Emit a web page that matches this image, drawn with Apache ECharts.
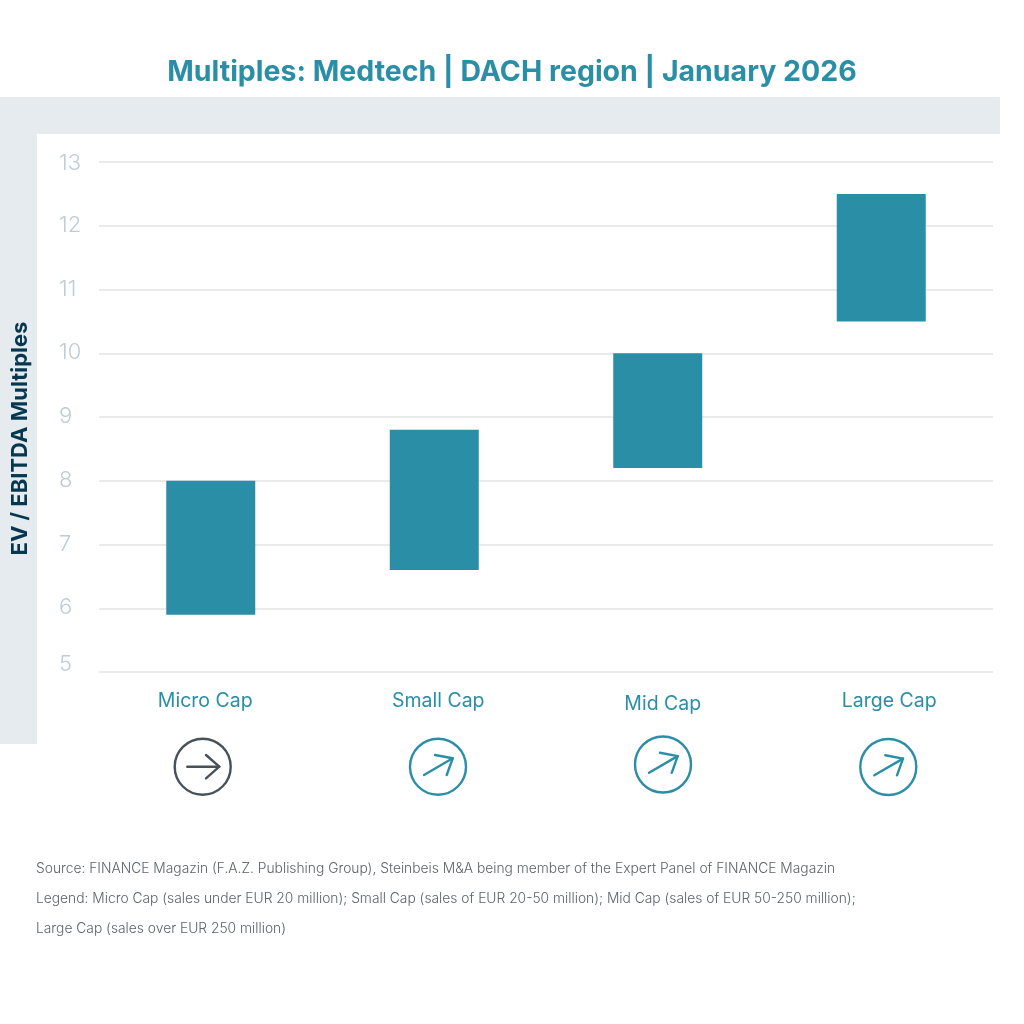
<!DOCTYPE html>
<html><head><meta charset="utf-8">
<style>html,body{margin:0;padding:0;background:#fff}#c{width:1024px;height:1024px}</style>
<script src="https://cdn.jsdelivr.net/npm/echarts@6/dist/echarts.min.js"></script>
</head><body><div id="c"></div>
<script>
const categories = ['Micro Cap','Small Cap','Mid Cap','Large Cap'];
const lowValues = [5.9,6.6,8.2,10.5];
const highValues = [8.0,8.8,10.0,12.5];
const titleText = 'Multiples: Medtech | DACH region | January 2026';
const axisTitle = 'EV / EBITDA Multiples';
const footLines = [
 'Source: FINANCE Magazin (F.A.Z. Publishing Group), Steinbeis M&A being member of the Expert Panel of FINANCE Magazin',
 'Legend: Micro Cap (sales under EUR 20 million); Small Cap (sales of EUR 20-50 million); Mid Cap (sales of EUR 50-250 million);',
 'Large Cap (sales over EUR 250 million)'
];
const teal='#2a8fa6', pale='#e6ebef', dark='#46525b', tickColor='#bccdd5';
const font='Inter';
function icon(cx,cy,color,flat){
  const tail = flat ? [[-15.4,0],[16.6,0]] : [[-14,8.3],[14.7,-8.4]];
  const head = flat ? [[3.3,-11.7],[16.6,0],[3.3,11.7]] : [[-3,-11.7],[14.7,-8.4],[8.7,8.3]];
  const s={stroke:color,fill:'none',lineWidth:2.4,lineCap:'round',lineJoin:'round'};
  return {type:'group',x:cx,y:cy,silent:true,children:[
    {type:'circle',shape:{cx:0,cy:0,r:28},style:s},
    {type:'polyline',shape:{points:tail},style:s},
    {type:'polyline',shape:{points:head},style:s}
  ]};
}
const labelRich=p=>({fontFamily:font,fontSize:19.5,color:teal,padding:p});
const tickRich=p=>({fontFamily:font,fontSize:22,fontWeight:300,color:tickColor,padding:p});
const chart=echarts.init(document.getElementById('c'),null,{renderer:'canvas'});
chart.setOption({
  animation:false,
  backgroundColor:'#fff',
  textStyle:{fontFamily:font},
  title:{text:titleText,left:'center',top:53,textStyle:{fontFamily:font,fontWeight:700,fontSize:28.5,color:teal}},
  grid:{left:99,right:31,top:162,bottom:352,containLabel:false},
  xAxis:{type:'category',data:categories,
    axisLine:{show:false},axisTick:{show:false},
    axisLabel:{margin:19,fontFamily:font,fontSize:19.5,color:teal,
      formatter:v=>'{c'+categories.indexOf(v)+'|'+v+'}',
      rich:{c0:labelRich([0,11,0,0]),c1:labelRich([0,0,0,8]),c2:labelRich([3,0,0,10]),c3:labelRich([0,0,0,16])}}},
  yAxis:{type:'value',min:5,max:13,interval:1,
    axisLine:{show:false},axisTick:{show:false},
    splitLine:{lineStyle:{color:'#e8eaec',width:2}},
    axisLabel:{align:'left',margin:40,fontFamily:font,fontSize:22,fontWeight:300,color:tickColor,
      formatter:v=>v===5?'{low|5}':v===13?'{top|13}':'{n|'+v+'}',
      rich:{n:tickRich([0,0,1,0]),top:tickRich([3,0,0,0]),low:tickRich([0,0,16,0])}}},
  series:[
    {type:'bar',stack:'r',barWidth:89,silent:true,itemStyle:{color:'transparent'},data:lowValues},
    {type:'bar',stack:'r',barWidth:89,silent:true,itemStyle:{color:teal},data:highValues.map((h,i)=>+(h-lowValues[i]).toFixed(2))}
  ],
  graphic:[
    {type:'rect',z:-10,shape:{x:0,y:97,width:1000,height:37},style:{fill:pale},silent:true},
    {type:'rect',z:-10,shape:{x:0,y:97,width:37,height:647},style:{fill:pale},silent:true},
    {type:'text',x:20,y:438.5,rotation:Math.PI/2,silent:true,style:{text:axisTitle,fontFamily:font,fontSize:22,fontWeight:700,fill:'#05384f',align:'center',verticalAlign:'middle'}},
    icon(202.7,766.7,dark,true),
    icon(438,766.7,teal,false),
    icon(663,764.5,teal,false),
    icon(888.3,767,teal,false),
    ...footLines.map((t,i)=>({type:'text',x:36,y:869+i*29.7,silent:true,style:{text:t,fontFamily:font,fontSize:13.8,fontWeight:300,fill:'#5c6369',verticalAlign:'middle'}}))
  ]
});
</script></body></html>
